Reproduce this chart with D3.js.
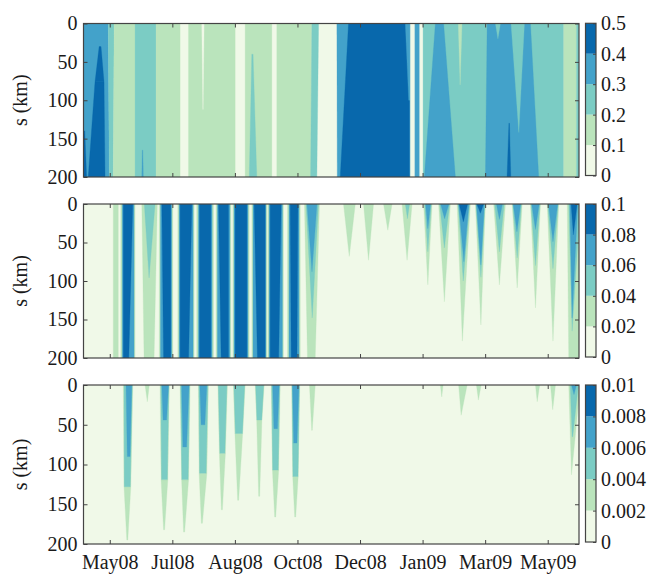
<!DOCTYPE html>
<html><head><meta charset="utf-8">
<script src="https://cdn.jsdelivr.net/npm/d3@7"></script>
<style>body{margin:0;background:#fff}svg{display:block}svg text{font-family:"Liberation Serif","Times New Roman",serif}</style>
</head><body><svg id="c" width="652" height="574"></svg>
<script>
// ---- data ----
// time is given in days since 29 Apr 2008; s in km
const startDate = "2008-04-29";
const endDay = 396;
const tickDates = ["2008-05-20","2008-07-09","2008-08-28","2008-10-17","2008-12-06","2009-01-25","2009-03-16","2009-05-05"];
const sTicks = [0, 50, 100, 150, 200];
const palette = ["#f0f9e8","#bae4bc","#7bccc4","#43a2ca","#0868ac"];
const levels1 = [0, 0.1, 0.2, 0.3, 0.4, 0.5];
const levels2 = [0, 0.02, 0.04, 0.06, 0.08, 0.1];
const levels3 = [0, 0.002, 0.004, 0.006, 0.008, 0.01];
const background1 = 0.05, background2 = 0.01, background3 = 0.001;
// regions: [value, topStartDay, topEndDay, bottomStartDay, bottomEndDay, sTop, sBottom]
// short form [value, startDay, endDay] = full depth band
const regions1 = [
  [0.35, 0, 19.8, 0, 20.6, 0, 200],
  [0.45, 12.5, 14, 9.2, 16.4, 30, 76],
  [0.45, 9.2, 16.4, 3.8, 17.2, 76, 200],
  [0.45, 0, 1, 0, 2.5, 140, 200],
  [0.25, 19.8, 24.5, 20.6, 23.8, 0, 200],
  [0.15, 24.5, 41.2, 23.8, 41.2, 0, 200],
  [0.25, 41.2, 58],
  [0.35, 47, 47.4, 46.6, 47.8, 165, 200],
  [0.15, 58, 77.2],
  [0.15, 83.9, 121.2],
  [0.05, 94.5, 96.4, 95.4, 95.6, 0, 112],
  [0.15, 129.2, 150.5],
  [0.25, 134.5, 135.5, 132.5, 138.5, 40, 200],
  [0.15, 154.5, 182.5],
  [0.25, 182.5, 187.9, 181.5, 186.5, 0, 200],
  [0.35, 202.5, 269.2, 202.8, 269.2, 0, 200],
  [0.45, 211.8, 260.6, 205.2, 260.6, 0, 200],
  [0.35, 257.2, 261.2, 259.9, 261.2, 0, 100],
  [0.05, 261.2, 264.6],
  [0.05, 268.6, 271.4],
  [0.25, 271.4, 383.8],
  [0.35, 281.2, 287.8, 272.4, 297.2, 0, 200],
  [0.15, 299.5, 302.5, 301, 301, 0, 80],
  [0.35, 322.6, 357.2, 321.2, 363.8, 0, 200],
  [0.25, 329.2, 333.2, 331.2, 331.2, 0, 20],
  [0.25, 341.7, 352.4, 347.9, 347.9, 0, 142],
  [0.45, 340, 340.4, 338.5, 341.5, 130, 200],
  [0.15, 383.8, 394],
  [0.25, 394, 397]
];
const regions2 = [
  [0.03, 23.8, 27.8],
  [0.03, 29.8, 41.2], [0.07, 31, 40.4], [0.09, 31.8, 39.4, 31.8, 36.2, 0, 200],
  [0.03, 46.6, 59, 48.4, 56.4, 0, 200], [0.05, 48.6, 57.2, 52.4, 52.4, 0, 96],
  [0.03, 60.6, 71.4], [0.07, 61.5, 70.5], [0.09, 62.6, 69.8, 64, 69.8, 0, 200],
  [0.03, 75.4, 88.4], [0.07, 76.4, 87.6], [0.09, 77.2, 86.6, 77.2, 84, 0, 200],
  [0.03, 90.5, 103.9], [0.07, 91.8, 102.8], [0.09, 92.7, 101.8],
  [0.03, 106, 117.8], [0.07, 107, 117], [0.09, 107.9, 115.9, 110, 115.9, 0, 200],
  [0.03, 119.4, 132.4], [0.07, 120.3, 131.5], [0.09, 121.2, 130.6],
  [0.03, 134.6, 146.6], [0.07, 135.5, 145.8], [0.09, 136.4, 145.2, 139, 145.2, 0, 200],
  [0.03, 147.4, 159.8], [0.07, 148.3, 159], [0.09, 149.2, 158, 149.2, 156, 0, 200],
  [0.03, 163, 173.2], [0.07, 164.2, 172.3], [0.09, 165.2, 171.4, 166, 170.6, 0, 200],
  [0.03, 176.6, 188.6, 179, 185.2, 0, 200], [0.05, 177.8, 187.8, 182.8, 182.8, 0, 148], [0.07, 178.6, 186.6, 182.6, 182.6, 0, 88],
  [0.03, 207.8, 217.2, 212.4, 212.4, 0, 68],
  [0.03, 223.8, 231.8, 227.8, 227.8, 0, 73],
  [0.03, 239.8, 246.6, 243.2, 243.2, 0, 34],
  [0.03, 254.6, 262.6, 258.6, 258.6, 0, 73], [0.05, 257.2, 260.6, 258.9, 258.9, 0, 19],
  [0.03, 271.8, 278.6, 275.2, 275.2, 0, 105], [0.05, 272.6, 278, 275.2, 275.2, 0, 62], [0.07, 273.4, 277.4, 275.2, 275.2, 0, 32],
  [0.03, 283.8, 293.2, 288.4, 288.4, 0, 127], [0.05, 284.6, 292.6, 288.4, 288.4, 0, 57], [0.07, 285.4, 292, 288.6, 288.6, 0, 19],
  [0.03, 298.6, 309.2, 302.8, 302.8, 0, 178], [0.05, 299.4, 308.6, 303.5, 303.5, 0, 100], [0.07, 299.8, 308, 304, 304, 0, 75], [0.09, 300.2, 307, 303.6, 303.6, 0, 23],
  [0.03, 313.2, 321.2, 317.6, 317.6, 0, 157], [0.05, 313.6, 320.8, 317.6, 317.6, 0, 95], [0.07, 314, 320.4, 317.6, 317.6, 0, 79], [0.09, 314.4, 319.8, 317.2, 317.2, 0, 12],
  [0.03, 327.8, 337.2, 332.4, 332.4, 0, 105], [0.05, 328.6, 336.2, 332.4, 332.4, 0, 62], [0.07, 330, 334.8, 332.4, 332.4, 0, 20],
  [0.03, 342.6, 350.6, 346.6, 346.6, 0, 109], [0.05, 343, 350, 346.6, 346.6, 0, 70], [0.07, 343.4, 349.4, 346.4, 346.4, 0, 36],
  [0.03, 357.2, 365.2, 361.2, 361.2, 0, 135], [0.05, 357.6, 364.8, 361.2, 361.2, 0, 80], [0.07, 358.2, 364.2, 361.2, 361.2, 0, 33],
  [0.03, 370.6, 379.8, 375.2, 375.2, 0, 178], [0.05, 371, 379.4, 375.2, 375.2, 0, 84], [0.07, 371.6, 379, 375.2, 375.2, 0, 49],
  [0.03, 386.6, 397, 387.8, 397, 0, 200], [0.05, 387.8, 397, 390.5, 390.5, 0, 165], [0.07, 388.7, 395, 390.5, 390.5, 0, 148], [0.09, 389.7, 394.5, 391.5, 391.5, 0, 40]
];
const regions3 = [
  [0.003, 31.8, 39.4, 32.4, 37.8, 0, 128], [0.003, 32.4, 37.8, 34.6, 35.4, 128, 195],
  [0.005, 32.4, 39, 32.6, 37.4, 0, 128], [0.007, 34, 38.6, 35, 37.2, 0, 90],
  [0.003, 49.2, 52.6, 51, 51, 0, 21],
  [0.003, 61.2, 68.6, 62, 67.4, 0, 119], [0.003, 62, 67.4, 64, 64.8, 119, 182],
  [0.005, 61.8, 68.2, 62.4, 67, 0, 119], [0.007, 62.6, 68, 63.6, 66.4, 0, 44],
  [0.003, 77.2, 85.2, 78.4, 84, 0, 119], [0.003, 78.4, 84, 80, 80.8, 119, 185],
  [0.005, 77.6, 84.8, 78.6, 83.6, 0, 119], [0.007, 78.4, 84.4, 79.4, 82.4, 0, 78],
  [0.003, 91.8, 99.8, 92.4, 98.6, 0, 111], [0.003, 92.4, 98.6, 94.2, 95, 111, 174],
  [0.005, 92.2, 99.4, 92.8, 98, 0, 111], [0.007, 93, 98.6, 94, 97, 0, 50],
  [0.003, 107.4, 115, 108.6, 113.4, 0, 86], [0.003, 108.6, 113.4, 110.2, 111, 86, 157],
  [0.005, 107.8, 114.6, 109, 113, 0, 86],
  [0.003, 119.8, 129.2, 121, 127.2, 0, 61], [0.003, 121, 127.2, 123.2, 124, 61, 145],
  [0.005, 120.2, 128.8, 121.4, 127, 0, 61],
  [0.003, 137.2, 144.4, 138.4, 142.6, 0, 44], [0.003, 138.4, 142.6, 140, 140.8, 44, 140],
  [0.005, 137.6, 144, 138.6, 142.4, 0, 44],
  [0.003, 150, 157.2, 151, 156, 0, 107], [0.003, 151, 156, 152.8, 153.6, 107, 166],
  [0.005, 150.4, 156.8, 151.2, 155.6, 0, 107], [0.007, 151.2, 156.4, 152.2, 155, 0, 55],
  [0.003, 166.4, 172.8, 167.2, 171.6, 0, 115], [0.003, 167.2, 171.6, 168.8, 169.6, 115, 166],
  [0.005, 166.6, 172.6, 167.4, 171.4, 0, 115], [0.007, 167, 172.2, 168, 170.6, 0, 73],
  [0.003, 180.6, 185.2, 182.4, 182.8, 0, 57],
  [0.003, 285.2, 287.4, 286.3, 286.3, 0, 15],
  [0.003, 299.8, 306.6, 301.8, 301.8, 0, 38],
  [0.003, 314, 317.8, 315.6, 315.6, 0, 19],
  [0.003, 361.2, 364.6, 362.6, 362.6, 0, 21],
  [0.003, 373.2, 377.2, 375, 375, 0, 31],
  [0.003, 387.8, 397, 390, 390, 0, 113], [0.005, 389, 395.5, 390.5, 391, 0, 65], [0.007, 390, 394, 392, 392, 0, 12]
];

// ---- drawing ----
const svg = d3.select("#c");
const FONT = "'Liberation Serif','Times New Roman',serif";
const parse = d3.utcParse("%Y-%m-%d");
const origin = parse(startDate).getTime();
const dayToDate = d => new Date(origin + d * 864e5);
const x = d3.scaleUtc().domain([dayToDate(0), dayToDate(endDay)]).range([83.5, 579]);
const ticks = tickDates.map(parse);

const layout = [
  {top: 23.5, bottom: 177, cbTop: 23.3, cbBottom: 175.5},
  {top: 204, bottom: 358, cbTop: 204, cbBottom: 357},
  {top: 385, bottom: 544, cbTop: 385, cbBottom: 542}
];
const panels = [
  {regions: regions1, levels: levels1, background: background1},
  {regions: regions2, levels: levels2, background: background2},
  {regions: regions3, levels: levels3, background: background3}
];
const norm = r => r.length === 3 ? [r[0], r[1], r[2], r[1], r[2], 0, 200] : r;
const line = d3.line();
const x0 = x.range()[0], x1 = x.range()[1];
const cbX = 585.5, cbW = 10.5;
const INK = "#444";

panels.forEach((p, i) => {
  const L = layout[i];
  const y = d3.scaleLinear().domain([0, 200]).range([L.top, L.bottom]);
  const color = d3.scaleThreshold().domain(p.levels.slice(1, -1)).range(palette);
  const defs = svg.append("defs");
  defs.append("clipPath").attr("id", "clip" + i).append("rect")
    .attr("x", x0).attr("y", L.top).attr("width", x1 - x0).attr("height", L.bottom - L.top);
  const g = svg.append("g");
  const plot = g.append("g").attr("clip-path", `url(#clip${i})`);
  plot.append("rect").attr("x", x0).attr("y", L.top).attr("width", x1 - x0).attr("height", L.bottom - L.top)
    .attr("fill", color(p.background));
  plot.selectAll("path").data(p.regions.map(norm)).join("path")
    .attr("d", r => line([
      [x(dayToDate(r[1])), y(r[5])], [x(dayToDate(r[2])), y(r[5])],
      [x(dayToDate(r[4])), y(r[6])], [x(dayToDate(r[3])), y(r[6])]
    ]) + "Z")
    .attr("fill", r => color(r[0]))
    .attr("stroke", r => color(r[0])).attr("stroke-width", 0.3);

  const styleAxis = sel => {
    sel.select(".domain").remove();
    sel.selectAll(".tick line").attr("stroke", INK);
    sel.selectAll("text").style("font-family", FONT).attr("font-size", 20).attr("fill", "#1a1a1a");
  };
  g.append("g").attr("transform", `translate(${x0},0)`)
    .call(d3.axisLeft(y).tickValues(sTicks).tickSize(-4).tickPadding(6)).call(styleAxis);
  g.append("g").attr("transform", `translate(${x1},0)`)
    .call(d3.axisRight(y).tickValues(sTicks).tickSize(-4).tickFormat("")).call(styleAxis);
  g.append("g").attr("transform", `translate(0,${L.top})`)
    .call(d3.axisTop(x).tickValues(ticks).tickSize(-4).tickFormat("")).call(styleAxis);
  g.append("g").attr("transform", `translate(0,${L.bottom})`)
    .call(d3.axisBottom(x).tickValues(ticks).tickSize(-4).tickPadding(11)
      .tickFormat(i === 2 ? d3.utcFormat("%b%y") : "")).call(styleAxis);
  g.append("rect").attr("x", x0).attr("y", L.top).attr("width", x1 - x0).attr("height", L.bottom - L.top)
    .attr("fill", "none").attr("stroke", INK).attr("stroke-width", 1.2);

  g.append("text").attr("transform", `translate(20,${(L.top + L.bottom) / 2}) rotate(-90)`)
    .attr("text-anchor", "middle").attr("dy", "0.35em")
    .style("font-family", FONT).attr("font-size", 20).attr("fill", "#1a1a1a").text("s (km)");

  // colorbar
  const cy = d3.scaleLinear().domain([p.levels[0], p.levels[p.levels.length - 1]]).range([L.cbBottom, L.cbTop]);
  const cb = g.append("g");
  cb.selectAll("rect.band").data(d3.range(p.levels.length - 1)).join("rect").attr("class", "band")
    .attr("x", cbX).attr("width", cbW)
    .attr("y", k => cy(p.levels[k + 1])).attr("height", k => cy(p.levels[k]) - cy(p.levels[k + 1]))
    .attr("fill", k => palette[k]);
  cb.append("g").attr("transform", `translate(${cbX + cbW},0)`)
    .call(d3.axisRight(cy).tickValues(p.levels).tickSize(-3).tickPadding(5).tickFormat(d => String(d)))
    .call(styleAxis);
  cb.append("rect").attr("x", cbX).attr("y", L.cbTop).attr("width", cbW).attr("height", L.cbBottom - L.cbTop)
    .attr("fill", "none").attr("stroke", INK).attr("stroke-width", 1.2);
});
</script></body></html>
